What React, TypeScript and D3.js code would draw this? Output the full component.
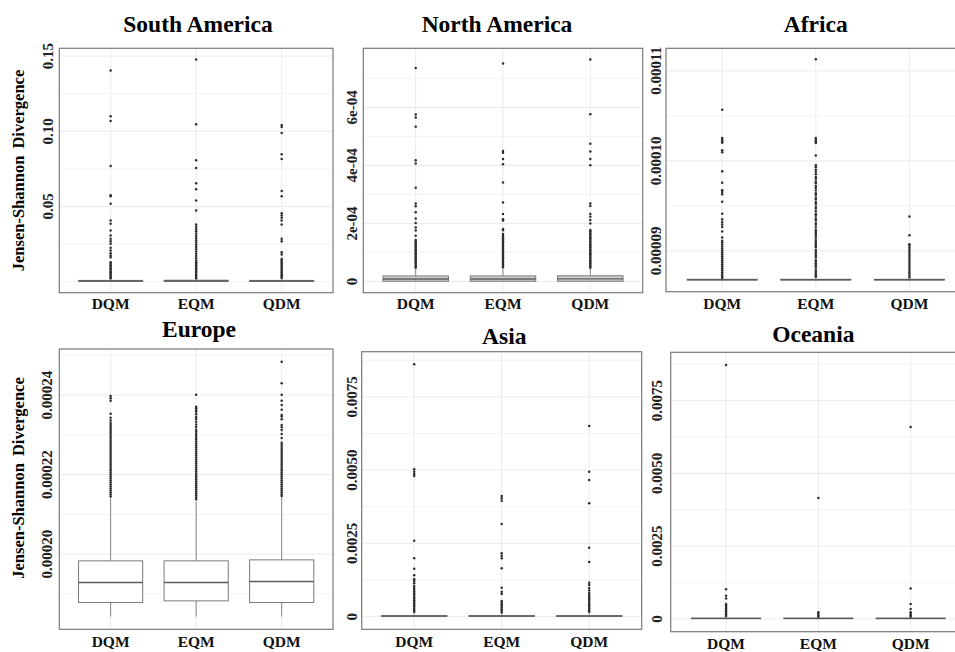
import React from "react";
import * as d3 from "d3";

const CATEGORIES = ["DQM", "EQM", "QDM"];

// ---------- South America ----------
const SA_LOWER = [0, 0, 0];
const SA_Q1 = [0.0002, 0.0002, 0.0002];
const SA_MEDIAN = [0.0004, 0.0004, 0.0004];
const SA_Q3 = [0.0008, 0.0009, 0.0008];
const SA_UPPER = [0.0018, 0.002, 0.0018];
const SA_OUT_DQM = [0.1405, 0.11, 0.1069, 0.0769, 0.0575, 0.0567, 0.0518, 0.0407, 0.0385, 0.034, 0.0307, 0.0285, 0.0269, 0.0251, 0.0225, 0.0207, 0.0189, 0.0173, 0.0162, 0.0129, 0.0118, 0.0108, 0.0099, 0.0089, 0.008, 0.0071, 0.0062, 0.0053, 0.0045, 0.0037, 0.003, 0.0023];
const SA_OUT_EQM = [0.1478, 0.1047, 0.0807, 0.0755, 0.0655, 0.0615, 0.054, 0.0473, 0.038, 0.0365, 0.035, 0.0335, 0.032, 0.0305, 0.029, 0.0275, 0.026, 0.0245, 0.023, 0.0215, 0.02, 0.0185, 0.017, 0.0155, 0.014, 0.0128, 0.0118, 0.0108, 0.0098, 0.0088, 0.0078, 0.0068, 0.0058, 0.0048, 0.0039, 0.003, 0.0023];
const SA_OUT_QDM = [0.1042, 0.1029, 0.0989, 0.0847, 0.0815, 0.0602, 0.0567, 0.0455, 0.044, 0.0424, 0.0407, 0.038, 0.0285, 0.0269, 0.0195, 0.018, 0.0151, 0.0141, 0.0131, 0.0121, 0.0111, 0.0101, 0.0091, 0.0081, 0.0071, 0.0061, 0.0051, 0.0042, 0.0033, 0.0024];
const SA_TICKS = [0.05, 0.1, 0.15];
const SA_TICK_LABELS = ["0.05", "0.10", "0.15"];
const SA_MINOR = [0, 0.025, 0.075, 0.125];

// ---------- North America ----------
const NA_LOWER = [0, 0, 0];
const NA_Q1 = [1.2e-6, 1.2e-6, 1.2e-6];
const NA_MEDIAN = [9e-6, 9e-6, 9.5e-6];
const NA_Q3 = [1.95e-5, 1.95e-5, 2.0e-5];
const NA_UPPER = [4.5e-5, 4.5e-5, 4.6e-5];
const NA_OUT_DQM = [7.35e-4, 5.75e-4, 5.65e-4, 5.33e-4, 4.18e-4, 4.07e-4, 3.23e-4, 2.69e-4, 2.59e-4, 2.39e-4, 2.17e-4, 2.02e-4, 1.86e-4, 1.76e-4, 1.58e-4, 1.43e-4, 1.38e-4, 1.33e-4, 1.28e-4, 1.23e-4, 1.18e-4, 1.13e-4, 1.08e-4, 1.03e-4, 0.98e-4, 0.93e-4, 0.88e-4, 0.83e-4, 0.78e-4, 0.73e-4, 0.68e-4, 0.63e-4, 0.58e-4, 0.53e-4, 0.48e-4];
const NA_OUT_EQM = [7.51e-4, 4.5e-4, 4.44e-4, 4.22e-4, 4.04e-4, 3.41e-4, 2.72e-4, 2.33e-4, 2.15e-4, 2.1e-4, 1.81e-4, 1.77e-4, 1.64e-4, 1.59e-4, 1.54e-4, 1.49e-4, 1.44e-4, 1.39e-4, 1.34e-4, 1.29e-4, 1.24e-4, 1.19e-4, 1.14e-4, 1.09e-4, 1.04e-4, 0.99e-4, 0.94e-4, 0.89e-4, 0.84e-4, 0.79e-4, 0.74e-4, 0.69e-4, 0.64e-4, 0.59e-4, 0.54e-4, 0.49e-4];
const NA_OUT_QDM = [7.65e-4, 5.76e-4, 4.75e-4, 4.48e-4, 4.22e-4, 4.01e-4, 2.69e-4, 2.6e-4, 2.33e-4, 2.23e-4, 2.12e-4, 2.0e-4, 1.78e-4, 1.73e-4, 1.68e-4, 1.63e-4, 1.58e-4, 1.53e-4, 1.48e-4, 1.43e-4, 1.38e-4, 1.33e-4, 1.28e-4, 1.23e-4, 1.18e-4, 1.13e-4, 1.08e-4, 1.03e-4, 0.98e-4, 0.93e-4, 0.88e-4, 0.83e-4, 0.78e-4, 0.73e-4, 0.68e-4, 0.63e-4, 0.58e-4, 0.53e-4, 0.48e-4];
const NA_TICKS = [0, 2e-4, 4e-4, 6e-4];
const NA_TICK_LABELS = ["0", "2e-04", "4e-04", "6e-04"];
const NA_MINOR = [1e-4, 3e-4, 5e-4, 7e-4];

// ---------- Africa ----------
const AF_LOWER = [8.67e-5, 8.67e-5, 8.67e-5];
const AF_Q1 = [8.678e-5, 8.678e-5, 8.678e-5];
const AF_MEDIAN = [8.68e-5, 8.68e-5, 8.68e-5];
const AF_Q3 = [8.685e-5, 8.685e-5, 8.685e-5];
const AF_UPPER = [8.69e-5, 8.69e-5, 8.69e-5];
const AF_OUT_DQM = [10.567e-5, 10.254e-5, 10.235e-5, 10.217e-5, 10.2e-5, 10.117e-5, 10.095e-5, 9.885e-5, 9.757e-5, 9.675e-5, 9.653e-5, 9.628e-5, 9.547e-5, 9.414e-5, 9.351e-5, 9.322e-5, 9.293e-5, 9.266e-5, 9.215e-5, 9.149e-5, 9.112e-5, 9.094e-5, 9.072e-5, 9.05e-5, 9.028e-5, 9.006e-5, 8.984e-5, 8.962e-5, 8.94e-5, 8.918e-5, 8.896e-5, 8.874e-5, 8.852e-5, 8.83e-5, 8.808e-5, 8.786e-5, 8.764e-5, 8.742e-5, 8.72e-5, 8.7e-5];
const AF_OUT_EQM = [11.127e-5, 10.254e-5, 10.235e-5, 10.217e-5, 10.199e-5, 10.059e-5, 9.95e-5, 9.93e-5, 9.9e-5, 9.88e-5, 9.85e-5, 9.82e-5, 9.8e-5, 9.77e-5, 9.75e-5, 9.72e-5, 9.7e-5, 9.67e-5, 9.64e-5, 9.62e-5, 9.59e-5, 9.57e-5, 9.54e-5, 9.52e-5, 9.49e-5, 9.47e-5, 9.44e-5, 9.41e-5, 9.39e-5, 9.36e-5, 9.34e-5, 9.31e-5, 9.29e-5, 9.26e-5, 9.23e-5, 9.21e-5, 9.19e-5, 9.17e-5, 9.15e-5, 9.12e-5, 9.1e-5, 9.08e-5, 9.06e-5, 9.04e-5, 9.01e-5, 8.99e-5, 8.97e-5, 8.95e-5, 8.93e-5, 8.9e-5, 8.88e-5, 8.86e-5, 8.84e-5, 8.82e-5, 8.79e-5, 8.77e-5, 8.75e-5, 8.73e-5, 8.71e-5];
const AF_OUT_QDM = [9.381e-5, 9.175e-5, 9.075e-5, 9.056e-5, 9.034e-5, 9.012e-5, 8.99e-5, 8.968e-5, 8.946e-5, 8.924e-5, 8.902e-5, 8.88e-5, 8.858e-5, 8.836e-5, 8.814e-5, 8.792e-5, 8.77e-5, 8.748e-5, 8.726e-5, 8.704e-5];
const AF_TICKS = [0.00009, 0.0001, 0.00011];
const AF_TICK_LABELS = ["0.00009", "0.00010", "0.00011"];
const AF_MINOR = [0.000095, 0.000105];

// ---------- Europe ----------
const EU_LOWER = [0.00018427, 0.00018427, 0.00018427];
const EU_Q1 = [0.0001878, 0.00018822, 0.0001878];
const EU_MEDIAN = [0.00019283, 0.00019283, 0.00019308];
const EU_Q3 = [0.00019829, 0.00019829, 0.00019854];
const EU_UPPER = [0.00021406, 0.00021321, 0.00021431];
const EU_OUT_DQM = [0.0002398, 0.0002392, 0.0002386, 0.0002353, 0.0002343, 0.0002336, 0.000233, 0.0002325, 0.000232, 0.0002315, 0.000231, 0.0002305, 0.00023, 0.0002295, 0.000229, 0.0002285, 0.000228, 0.0002275, 0.000227, 0.0002265, 0.000226, 0.0002255, 0.000225, 0.0002245, 0.000224, 0.0002235, 0.000223, 0.0002225, 0.000222, 0.0002215, 0.000221, 0.0002205, 0.00022, 0.0002195, 0.000219, 0.0002185, 0.000218, 0.0002175, 0.000217, 0.0002165, 0.000216, 0.0002155, 0.000215, 0.0002145];
const EU_OUT_EQM = [0.0002401, 0.0002371, 0.0002367, 0.0002362, 0.0002358, 0.0002352, 0.0002345, 0.000234, 0.0002333, 0.0002326, 0.000232, 0.0002313, 0.0002308, 0.0002303, 0.0002298, 0.0002293, 0.0002288, 0.0002283, 0.0002278, 0.0002273, 0.0002268, 0.0002263, 0.0002258, 0.0002253, 0.0002248, 0.0002243, 0.0002238, 0.0002233, 0.0002228, 0.0002223, 0.0002218, 0.0002213, 0.0002208, 0.0002203, 0.0002198, 0.0002193, 0.0002188, 0.0002183, 0.0002178, 0.0002173, 0.0002168, 0.0002163, 0.0002158, 0.0002153, 0.0002148, 0.0002143, 0.0002138];
const EU_OUT_QDM = [0.0002484, 0.000243, 0.0002401, 0.0002386, 0.0002375, 0.0002363, 0.000235, 0.0002346, 0.0002339, 0.0002325, 0.0002319, 0.0002312, 0.0002302, 0.0002292, 0.000228, 0.0002275, 0.000227, 0.0002265, 0.000226, 0.0002255, 0.000225, 0.0002245, 0.000224, 0.0002235, 0.000223, 0.0002225, 0.000222, 0.0002215, 0.000221, 0.0002205, 0.00022, 0.0002195, 0.000219, 0.0002185, 0.000218, 0.0002175, 0.000217, 0.0002165, 0.000216, 0.0002155, 0.000215, 0.0002146];
const EU_TICKS = [0.0002, 0.00022, 0.00024];
const EU_TICK_LABELS = ["0.00020", "0.00022", "0.00024"];
const EU_MINOR = [0.00019, 0.00021, 0.00023, 0.00025];

// ---------- Asia ----------
const AS_LOWER = [0, 0, 0];
const AS_Q1 = [0.00001, 0.00001, 0.00001];
const AS_MEDIAN = [0.00002, 0.00002, 0.00002];
const AS_Q3 = [0.00004, 0.00004, 0.00004];
const AS_UPPER = [0.00009, 0.00009, 0.00009];
const AS_OUT_DQM = [0.00861, 0.005028, 0.004946, 0.004867, 0.0048, 0.002592, 0.001992, 0.001637, 0.001412, 0.001276, 0.001218, 0.00114, 0.001047, 0.000979, 0.000911, 0.000853, 0.000795, 0.000737, 0.000679, 0.000621, 0.000563, 0.000505, 0.000447, 0.000389, 0.000331, 0.000273, 0.000215, 0.000157];
const AS_OUT_EQM = [0.004117, 0.004039, 0.003957, 0.003162, 0.002163, 0.002081, 0.001992, 0.001651, 0.000989, 0.000853, 0.000774, 0.000536, 0.00048, 0.000424, 0.000368, 0.000312, 0.000256, 0.0002, 0.000144];
const AS_OUT_QDM = [0.006505, 0.004946, 0.004663, 0.003868, 0.002354, 0.001866, 0.00116, 0.001081, 0.000979, 0.000894, 0.000808, 0.00074, 0.000682, 0.000624, 0.000566, 0.000508, 0.00045, 0.000392, 0.000334, 0.000276, 0.000218, 0.00016];
const AS_TICKS = [0, 0.0025, 0.005, 0.0075];
const AS_TICK_LABELS = ["0", "0.0025", "0.0050", "0.0075"];
const AS_MINOR = [0.00125, 0.00375, 0.00625, 0.00875];

// ---------- Oceania ----------
const OC_LOWER = [0, 0, 0];
const OC_Q1 = [0.00001, 0.00001, 0.00001];
const OC_MEDIAN = [0.00002, 0.00002, 0.00002];
const OC_Q3 = [0.00003, 0.00003, 0.00003];
const OC_UPPER = [0.00006, 0.00006, 0.00006];
const OC_OUT_DQM = [0.00872, 0.001023, 0.000795, 0.000706, 0.000512, 0.00046, 0.000409, 0.000358, 0.000307, 0.000256, 0.000205, 0.000154, 0.000102];
const OC_OUT_EQM = [0.00415, 0.000228, 0.00018, 0.00013, 0.00008];
const OC_OUT_QDM = [0.00659, 0.001047, 0.000512, 0.000341, 0.000228, 0.00018, 0.00013, 0.00008];
const OC_TICKS = [0, 0.0025, 0.005, 0.0075];
const OC_TICK_LABELS = ["0", "0.0025", "0.0050", "0.0075"];
const OC_MINOR = [0.00125, 0.00375, 0.00625, 0.00875];

type PanelData = {
  title: string;
  lower: number[];
  q1: number[];
  median: number[];
  q3: number[];
  upper: number[];
  outliers: number[][];
  ticks: number[];
  tickLabels: string[];
  minor: number[];
};

const PANELS: PanelData[] = [
  { title: "South America", lower: SA_LOWER, q1: SA_Q1, median: SA_MEDIAN, q3: SA_Q3, upper: SA_UPPER, outliers: [SA_OUT_DQM, SA_OUT_EQM, SA_OUT_QDM], ticks: SA_TICKS, tickLabels: SA_TICK_LABELS, minor: SA_MINOR },
  { title: "North America", lower: NA_LOWER, q1: NA_Q1, median: NA_MEDIAN, q3: NA_Q3, upper: NA_UPPER, outliers: [NA_OUT_DQM, NA_OUT_EQM, NA_OUT_QDM], ticks: NA_TICKS, tickLabels: NA_TICK_LABELS, minor: NA_MINOR },
  { title: "Africa", lower: AF_LOWER, q1: AF_Q1, median: AF_MEDIAN, q3: AF_Q3, upper: AF_UPPER, outliers: [AF_OUT_DQM, AF_OUT_EQM, AF_OUT_QDM], ticks: AF_TICKS, tickLabels: AF_TICK_LABELS, minor: AF_MINOR },
  { title: "Europe", lower: EU_LOWER, q1: EU_Q1, median: EU_MEDIAN, q3: EU_Q3, upper: EU_UPPER, outliers: [EU_OUT_DQM, EU_OUT_EQM, EU_OUT_QDM], ticks: EU_TICKS, tickLabels: EU_TICK_LABELS, minor: EU_MINOR },
  { title: "Asia", lower: AS_LOWER, q1: AS_Q1, median: AS_MEDIAN, q3: AS_Q3, upper: AS_UPPER, outliers: [AS_OUT_DQM, AS_OUT_EQM, AS_OUT_QDM], ticks: AS_TICKS, tickLabels: AS_TICK_LABELS, minor: AS_MINOR },
  { title: "Oceania", lower: OC_LOWER, q1: OC_Q1, median: OC_MEDIAN, q3: OC_Q3, upper: OC_UPPER, outliers: [OC_OUT_DQM, OC_OUT_EQM, OC_OUT_QDM], ticks: OC_TICKS, tickLabels: OC_TICK_LABELS, minor: OC_MINOR },
];

// layout (pixels) — kept apart from the data
const LAYOUT = [
  { x0: 59.3, x1: 333, y0: 48.3, y1: 292.7, titleX: 198, titleY: 31.5, xLabY: 308.5, yLabX: 52.5, yTitle: 170.5, fill: "#ffffff" },
  { x0: 363.3, x1: 642.7, y0: 48.3, y1: 292.7, titleX: 497, titleY: 31.5, xLabY: 308.5, yLabX: 357, yTitle: null, fill: "#d0d0d0" },
  { x0: 666, x1: 965.6, y0: 48.3, y1: 291.7, titleX: 815.7, titleY: 31.5, xLabY: 308.5, yLabX: 660.5, yTitle: null, fill: "#ffffff" },
  { x0: 59.3, x1: 333, y0: 349, y1: 629.3, titleX: 199, titleY: 336.7, xLabY: 646.5, yLabX: 52.2, yTitle: 478, fill: "#ffffff" },
  { x0: 361.7, x1: 641.7, y0: 351.7, y1: 629.3, titleX: 504.3, titleY: 344, xLabY: 646.5, yLabX: 357, yTitle: null, fill: "#ffffff" },
  { x0: 670.7, x1: 966, y0: 352.3, y1: 631.7, titleX: 813.3, titleY: 341.7, xLabY: 648.5, yLabX: 661.5, yTitle: null, fill: "#ffffff" },
];

const FONT = "'Liberation Serif', 'Times New Roman', serif";

function Panel({ p, l, idx }: { p: PanelData; l: any; idx: number }) {
  const all = [...p.lower, ...p.upper, ...p.outliers.flat()];
  const mn = d3.min(all) as number;
  const mx = d3.max(all) as number;
  const pad = (mx - mn) * 0.05;
  const y = d3.scaleLinear().domain([mn - pad, mx + pad]).range([l.y1, l.y0]);
  const x = d3.scalePoint<string>().domain(CATEGORIES).range([l.x0, l.x1]).padding(0.6);
  const bw = x.step() * 0.75;
  const clipId = `clip-${idx}`;
  const gridColor = "#ebebeb";
  return (
    <g>
      <defs>
        <clipPath id={clipId}>
          <rect x={l.x0} y={l.y0} width={l.x1 - l.x0} height={l.y1 - l.y0} />
        </clipPath>
      </defs>
      <rect x={l.x0} y={l.y0} width={l.x1 - l.x0} height={l.y1 - l.y0} fill="#ffffff" />
      <g clipPath={`url(#${clipId})`}>
        {p.minor.map((v, i) => (
          <line key={"mn" + i} x1={l.x0} x2={l.x1} y1={y(v)} y2={y(v)} stroke={gridColor} strokeWidth={0.6} />
        ))}
        {p.ticks.map((v, i) => (
          <line key={"mj" + i} x1={l.x0} x2={l.x1} y1={y(v)} y2={y(v)} stroke={gridColor} strokeWidth={1} />
        ))}
        {CATEGORIES.map((c) => (
          <line key={"vg" + c} x1={x(c)} x2={x(c)} y1={l.y0} y2={l.y1} stroke={gridColor} strokeWidth={1} />
        ))}
        {CATEGORIES.map((c, i) => {
          const cx = x(c) as number;
          return (
            <g key={"box" + c}>
              <line x1={cx} x2={cx} y1={y(p.q3[i])} y2={y(p.upper[i])} stroke="#7a7a7a" strokeWidth={0.9} />
              <line x1={cx} x2={cx} y1={y(p.q1[i])} y2={y(p.lower[i])} stroke="#7a7a7a" strokeWidth={0.9} />
              <rect
                x={cx - bw / 2}
                y={y(p.q3[i])}
                width={bw}
                height={Math.max(0.01, y(p.q1[i]) - y(p.q3[i]))}
                fill={l.fill}
                stroke="#7a7a7a"
                strokeWidth={1}
              />
              <line x1={cx - bw / 2} x2={cx + bw / 2} y1={y(p.median[i])} y2={y(p.median[i])} stroke="#5c5c5c" strokeWidth={1.4} />
            </g>
          );
        })}
        {CATEGORIES.map((c, i) =>
          p.outliers[i].map((v, j) => (
            <circle key={"pt" + c + j} cx={x(c)} cy={y(v)} r={1.25} fill="#2e2e2e" />
          ))
        )}
      </g>
      <rect x={l.x0} y={l.y0} width={l.x1 - l.x0} height={l.y1 - l.y0} fill="none" stroke="#7a7a7a" strokeWidth={1.2} />
      <text x={l.titleX} y={l.titleY} textAnchor="middle" fontFamily={FONT} fontWeight="bold" fontSize={23.5} fill="#000">
        {p.title}
      </text>
      {CATEGORIES.map((c) => (
        <text key={"xl" + c} x={x(c)} y={l.xLabY} textAnchor="middle" fontFamily={FONT} fontWeight="bold" fontSize={15.5} fill="#111">
          {c}
        </text>
      ))}
      {p.ticks.map((v, i) => (
        <text
          key={"yl" + i}
          transform={`translate(${l.yLabX},${y(v)}) rotate(-90)`}
          textAnchor="middle"
          fontFamily={FONT}
          fontWeight="bold"
          fontSize={15}
          fill="#222"
        >
          {p.tickLabels[i]}
        </text>
      ))}
      {l.yTitle !== null && (
        <text
          transform={`translate(24,${l.yTitle}) rotate(-90)`}
          textAnchor="middle"
          fontFamily={FONT}
          fontWeight="bold"
          fontSize={16.5}
          fill="#000"
          wordSpacing={3}
        >
          Jensen-Shannon Divergence
        </text>
      )}
    </g>
  );
}

export default function App() {
  return (
    <div style={{ position: "absolute", left: 0, top: 0, width: 955, height: 652, overflow: "hidden", background: "#fff" }}>
      <svg width={955} height={652} viewBox="0 0 955 652" style={{ display: "block" }}>
        <rect x={0} y={0} width={955} height={652} fill="#ffffff" />
        {PANELS.map((p, i) => (
          <Panel key={p.title} p={p} l={LAYOUT[i]} idx={i} />
        ))}
      </svg>
    </div>
  );
}
